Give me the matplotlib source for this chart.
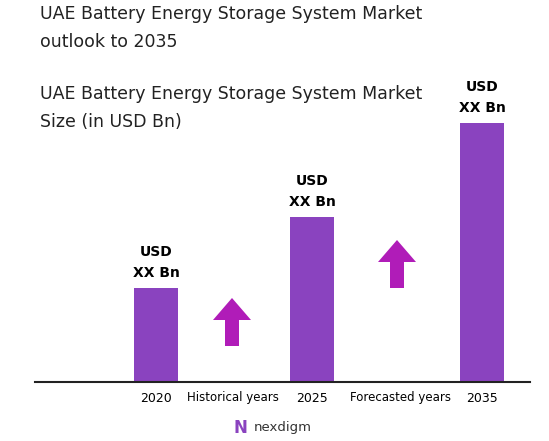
import matplotlib.pyplot as plt
from matplotlib.patches import FancyArrow

years = ["2020", "2025", "2035"]
values = [94, 165, 259]          # bar heights (relative)
bar_labels = ["USD\nXX Bn", "USD\nXX Bn", "USD\nXX Bn"]
bar_x = [156, 312, 482]
period_labels = ["Historical years", "Forecasted years"]
period_x = [233, 400]

W, H = 549, 441
base = 382
fig = plt.figure(figsize=(W / 100, H / 100), dpi=100)
ax = fig.add_axes([0, (H - base) / H, 1, base / H])
ax.set_xlim(0, W)
ax.set_ylim(0, base)
ax.axis("off")

ax.bar(bar_x, values, width=44, color="#8A43BF")
for x, v, lab in zip(bar_x, values, bar_labels):
    ax.text(x, v + 8, lab, ha="center", va="bottom", fontsize=10,
            fontweight="bold", linespacing=1.6)
ax.plot([35, 530], [0, 0], color="#222222", lw=1.5, clip_on=False)

# up arrows between bars
for x, y0 in [(232, 36), (397, 94)]:
    ax.add_patch(FancyArrow(x, y0, 0, 48, width=14, head_width=38,
                            head_length=22, length_includes_head=True,
                            color="#B01CB8", lw=0))

# overlay axes in pixel coords for text
t = fig.add_axes([0, 0, 1, 1])
t.set_xlim(0, W)
t.set_ylim(H, 0)
t.axis("off")
t.text(40, 28, "UAE Battery Energy Storage System Market\noutlook to 2035",
       fontsize=12.5, va="center", linespacing=1.7, color="#222222")
t.text(40, 108, "UAE Battery Energy Storage System Market\nSize (in USD Bn)",
       fontsize=12.5, va="center", linespacing=1.7, color="#222222")
for x, y in zip(bar_x, years):
    t.text(x, 398, y, ha="center", va="center", fontsize=9)
for x, lab in zip(period_x, period_labels):
    t.text(x, 398, lab, ha="center", va="center", fontsize=8.5)
t.text(240, 428, "N", ha="center", va="center", fontsize=12,
       color="#8A43BF", fontweight="bold")
t.text(283, 428, "nexdigm", ha="center", va="center", fontsize=9.5,
       color="#333333")

fig.savefig("out.png", dpi=100)
